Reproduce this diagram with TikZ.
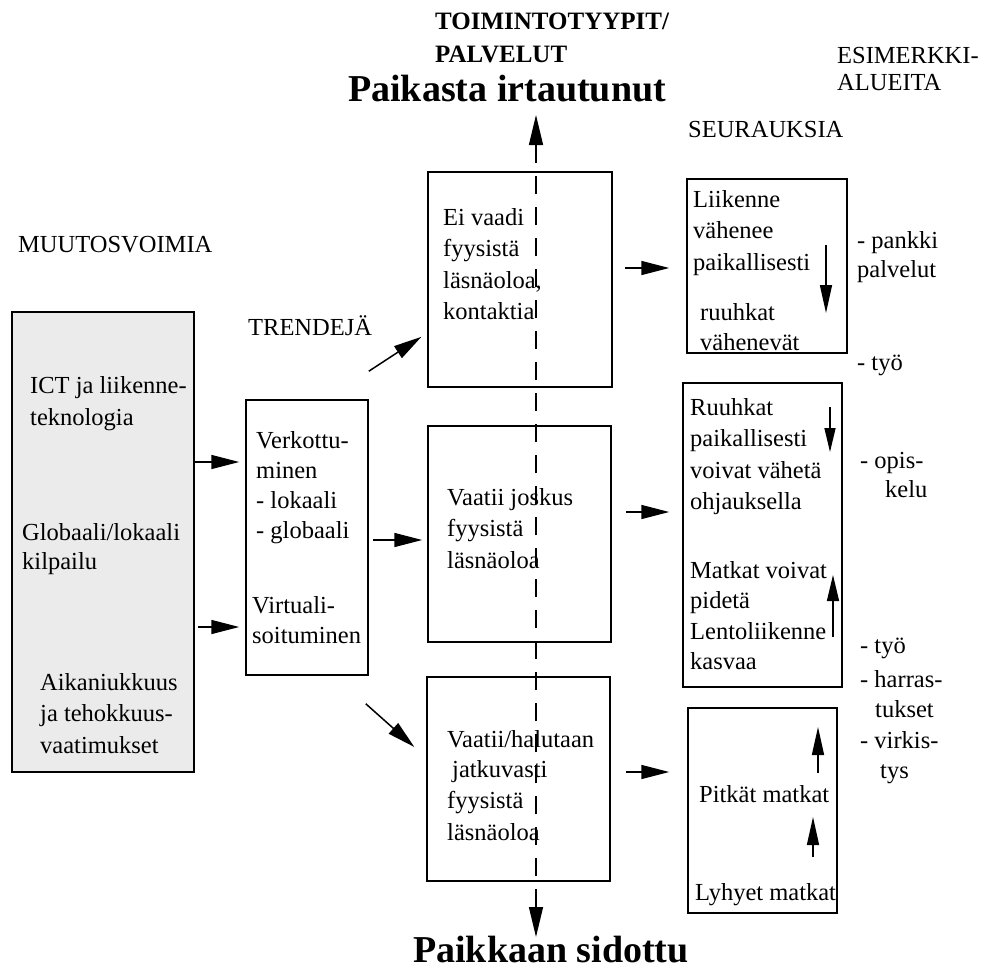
\documentclass[tikz,border=0pt]{standalone}
\usepackage{fontspec}
\setmainfont{Liberation Serif}
\usetikzlibrary{arrows.meta}
\begin{document}
\begin{tikzpicture}[x=1pt,y=-1pt,
  box/.style={draw, line width=1.5pt, inner sep=0pt},
  txt/.style={anchor=base west, inner sep=0pt, align=left, font=\fontsize{24.5}{31.5}\selectfont},
  hdr/.style={anchor=base west, inner sep=0pt, align=left, font=\fontsize{25}{33}\selectfont\bfseries},
  big/.style={anchor=base west, inner sep=0pt, font=\fontsize{38}{40}\selectfont\bfseries},
  arr/.style={line width=1.5pt, -{Triangle[length=28pt,width=14pt]}},
  varr/.style={line width=1.5pt, -{Triangle[length=28pt,width=12pt]}},
  dline/.style={line width=1.5pt, dash pattern=on 18pt off 13pt,
     {Triangle[length=30pt,width=14pt]}-{Triangle[length=30pt,width=14pt]}}
]
\useasboundingbox (0,0) rectangle (989,974);

% boxes
\node[box, fill=gray!16, minimum width=182pt, minimum height=460pt] (lb) at (103,542) {};
\node[box, minimum width=122pt, minimum height=275pt] (tb) at (307,537.5) {};
\node[box, minimum width=184pt, minimum height=215pt] (m1) at (520,279.5) {};
\node[box, minimum width=183pt, minimum height=216pt] (m2) at (519.5,534) {};
\node[box, minimum width=183pt, minimum height=204pt] (m3) at (518.5,779) {};
\node[box, minimum width=160pt, minimum height=174pt] (r1) at (767,266) {};
\node[box, minimum width=159pt, minimum height=304pt] (r2) at (762.5,535) {};
\node[box, minimum width=149pt, minimum height=205pt] (r3) at (762.5,810.5) {};

% headers (multi-line nodes are placed at the baseline of their last line)
\node[hdr] (h1) at (435,63) {TOIMINTOTYYPIT/\\PALVELUT};
\node[big] (ptop) at (348,102) {Paikasta irtautunut};
\node[big] (pbot) at (413,962) {Paikkaan sidottu};
\node[txt] (h2) at (837,91) {ESIMERKKI-\\[-4pt]ALUEITA};
\node[txt] (h3) at (688,138) {SEURAUKSIA};
\node[txt] (h4) at (18,252) {MUUTOSVOIMIA};
\node[txt] (h5) at (248,335) {TRENDEJÄ};

% left box texts
\node[txt] (l1) at (30,425) {ICT ja liikenne-\\teknologia};
\node[txt] (l2) at (22,569.5) {Globaali/lokaali\\[-2pt]kilpailu};
\node[txt] (l3) at (40,753) {Aikaniukkuus\\ja tehokkuus-\\vaatimukset};

% trend texts
\node[txt] (t1x) at (256,538) {Verkottu-\\[-1.5pt]minen\\[-1.5pt]- lokaali\\[-1.5pt]- globaali};
\node[txt] (t2x) at (252,643) {Virtuali-\\[-1.5pt]soituminen};

% middle texts
\node[txt] (m1x) at (443,319.5) {Ei vaadi\\fyysistä\\läsnäoloa,\\kontaktia};
\node[txt] (m2x) at (447,568) {Vaatii joskus\\fyysistä\\läsnäoloa};
\node[txt] (m3x) at (447,840.5) {Vaatii/halutaan\\[-1pt]\hspace{5pt}jatkuvasti\\[-1pt]fyysistä\\[1pt]läsnäoloa};

% right box texts
\node[txt] (r1a) at (693,270) {Liikenne\\vähenee\\paikallisesti};
\node[txt] (r1b) at (700,350) {ruuhkat\\[-1.5pt]vähenevät};
\node[txt] (r2a) at (690,509.5) {Ruuhkat\\paikallisesti\\voivat vähetä\\ohjauksella};
\node[txt] (r2b) at (690,669.5) {Matkat voivat\\[-1pt]pidetä\\[-1pt]Lentoliikenne\\[-1pt]kasvaa};
\node[txt] (r3a) at (699,802) {Pitkät matkat};
\node[txt] (r3b) at (695,900) {Lyhyet matkat};

% example labels
\node[txt] (e1) at (857,277) {- pankki\\[-2.5pt]palvelut};
\node[txt] (e2) at (857,370) {- työ};
\node[txt] (e3) at (860,468) {- opis-};
\node[txt] (e4) at (885,497) {kelu};
\node[txt] (e5) at (860,653) {- työ};
\node[txt] (e6) at (860,687) {- harras-};
\node[txt] (e7) at (875,717) {tukset};
\node[txt] (e8) at (860,748) {- virkis-};
\node[txt] (e9) at (880,778) {tys};

% dashed axis
\coordinate (dtop) at (536,115);
\coordinate (dbot) at (536,937);
\draw[dline] (dbot) -- (dtop);

% arrows left -> trends
\draw[arr, shorten >=6pt] (lb.east |- 0,462) -- (tb.west |- 0,462);
\draw[arr, shorten <=3pt, shorten >=6pt] (lb.east |- 0,627) -- (tb.west |- 0,627);

% trends -> middle
\coordinate (s1) at ([yshift=28pt]tb.north east);
\coordinate (s3) at ([xshift=-3pt,yshift=-28pt]tb.south east);
\draw[arr, shorten >=7pt] (s1) -- (m1.west |- 0,333);
\draw[arr, shorten <=4pt, shorten >=5pt] (tb.east |- 0,540) -- (m2.west |- 0,540);
\draw[arr, shorten >=16pt] (s3) -- (m3.west |- 0,757.6);

% middle -> right
\draw[arr, shorten <=12pt, shorten >=17pt] (m1.east |- 0,268) -- (r1.west |- 0,268);
\draw[arr, shorten <=14pt, shorten >=13pt] (m2.east |- 0,512) -- (r2.west |- 0,512);
\draw[arr, shorten <=15pt, shorten >=18pt] (m3.east |- 0,772) -- (r3.west |- 0,772);

% inner arrows
\coordinate (a1s) at (826,245); \coordinate (a1e) at (826,313);
\coordinate (a2s) at (830,407); \coordinate (a2e) at (830,452);
\coordinate (a3s) at (833,637); \coordinate (a3e) at (833,575);
\coordinate (a4s) at (818,773); \coordinate (a4e) at (818,727);
\coordinate (a5s) at (813,857); \coordinate (a5e) at (813,817);
\draw[varr] (a1s) -- (a1e);
\draw[varr, -{Triangle[length=24pt,width=11pt]}] (a2s) -- (a2e);
\draw[varr, -{Triangle[length=26pt,width=12pt]}] (a3s) -- (a3e);
\draw[varr] (a4s) -- (a4e);
\draw[varr] (a5s) -- (a5e);
\end{tikzpicture}
\end{document}
